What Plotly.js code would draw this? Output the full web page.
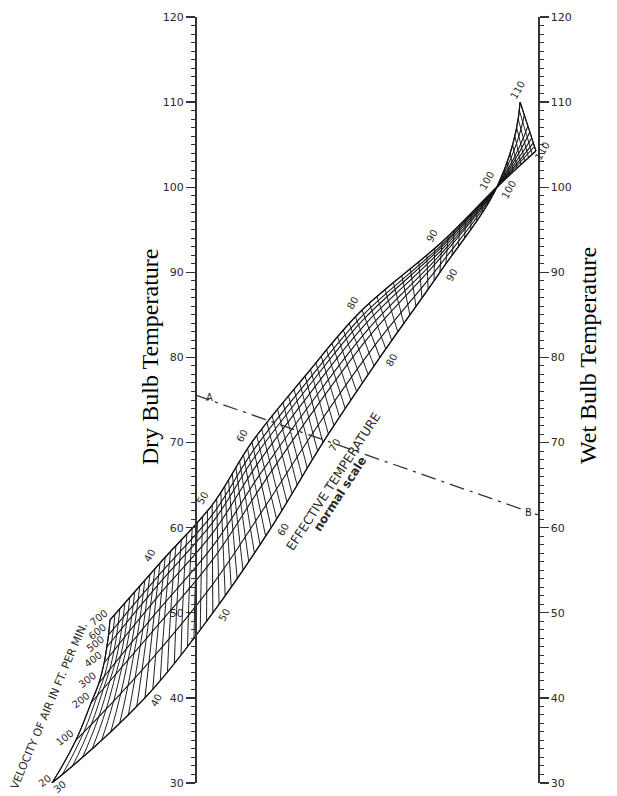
<!DOCTYPE html>
<html><head><meta charset="utf-8">
<script src="https://cdn.plot.ly/plotly-3.0.1.min.js"></script>
<style>html,body{margin:0;padding:0;background:#fff}#chart{width:617px;height:796px}</style>
</head><body><div id="chart"></div>
<script>
// Effective-temperature nomogram (normal scale)
const etValues   = [30, 40, 50, 60, 70, 80, 90, 100, 110];
const velocities = [20, 100, 200, 300, 400, 500, 600, 700];
// start of each velocity curve on the ET-30 boundary: fraction across, height deg F
const velocityStartX  = [-0.417, -0.347, -0.303, -0.280, -0.265, -0.257, -0.252, -0.248];
const velocityStartDB = [30.0, 35.05, 39.4, 41.75, 44.1, 45.98, 47.4, 49.15];
// 20 ft/min curve nodes: fraction across (0 = dry bulb scale, 1 = wet bulb scale), height deg F
const still20X = [-0.417, -0.146, 0.052, 0.222, 0.373, 0.539, 0.714, 0.880, 0.948];
const still20Y = [30, 40, 50, 60, 70, 80, 90, 100, 110];
// 700 ft/min curve nodes
const fast700X = [-0.248, -0.102, 0.050, 0.166, 0.321, 0.487, 0.720, 0.880, 0.994];
const fast700Y = [49.15, 55.85, 62.66, 70.06, 77.82, 85.57, 93.56, 100, 104.26];
// example line A (dry bulb) - B (wet bulb)
const lineDB = 75.6, lineWB = 61.5;
const lowerLabelETs = [30, 40, 50, 60, 70, 80, 90, 100, 110];
const upperLabelETs = [40, 50, 60, 80, 90, 100, 110];
const tickVals = [30, 40, 50, 60, 70, 80, 90, 100, 110, 120];

const span = velocityStartDB[velocityStartDB.length-1] - velocityStartDB[0];
const frac = velocityStartDB.map(v => (v - velocityStartDB[0]) / span);
const X = etValues.map((t, j) => j === 0 ? velocityStartX.slice()
  : frac.map(f => still20X[j] + f * (fast700X[j] - still20X[j])));
const Y = etValues.map((t, j) => j === 0 ? velocityStartDB.slice()
  : frac.map(f => still20Y[j] + f * (fast700Y[j] - still20Y[j])));

const ink = '#141414';
const carpet = {
  type: 'carpet', a: velocities, b: etValues, x: X, y: Y, xaxis: 'x', yaxis: 'y',
  aaxis: {smoothing: 1, tickmode: 'array', tickvals: velocities, showticklabels: 'none',
    showgrid: true, gridcolor: ink, gridwidth: 1.1, minorgridcount: 0,
    startline: true, endline: true, startlinecolor: ink, endlinecolor: ink,
    startlinewidth: 1.2, endlinewidth: 1.2, showline: false, title: {text: ''}},
  baxis: {smoothing: 1, tickmode: 'array', tickvals: etValues, showticklabels: 'none',
    showgrid: true, gridcolor: ink, gridwidth: 1.0, minorgridcount: 9,
    minorgridcolor: ink, minorgridwidth: 0.95,
    startline: true, endline: true, startlinecolor: ink, endlinecolor: ink,
    startlinewidth: 1.2, endlinewidth: 1.2, showline: false, title: {text: ''}}
};
const abLine = {type: 'scatter', mode: 'lines', x: [0, 1], y: [lineDB, lineWB],
  xaxis: 'x', yaxis: 'y2', line: {color: '#333', width: 1.3, dash: 'longdashdot'},
  hoverinfo: 'skip', showlegend: false};

const lblFont = {family: 'DejaVu Sans', size: 10, color: '#2a2a2a'};
const ann = [];
lowerLabelETs.forEach(t => {
  const j = etValues.indexOf(t);
  let xs = 12, ys = -2, ang = -60;
  if (t === 30) { xs = 8; ys = -3; ang = -40; }
  if (t === 110) { xs = -3; ys = 12; }
  ann.push({x: still20X[j], y: still20Y[j], xref: 'x', yref: 'y', text: String(t),
    showarrow: false, textangle: ang, xshift: xs, yshift: ys, font: lblFont});
});
upperLabelETs.forEach(t => {
  const j = etValues.indexOf(t);
  let xs = -10, ys = 7;
  if (t === 110) { xs = 7; ys = 0; }
  ann.push({x: fast700X[j], y: fast700Y[j], xref: 'x', yref: 'y', text: String(t),
    showarrow: false, textangle: -60, xshift: xs, yshift: ys, font: lblFont});
});
velocities.forEach((v, i) => {
  ann.push({x: X[0][i], y: Y[0][i], xref: 'x', yref: 'y', text: String(v),
    showarrow: false, textangle: -38, xshift: i === 0 ? -7 : -11, yshift: 3, font: lblFont});
});
ann.push({x: -0.43, y: 39.4, xref: 'x', yref: 'y', text: 'VELOCITY OF AIR IN FT. PER MIN.',
  showarrow: false, textangle: -67, xshift: 1, yshift: -3, font: {family: 'DejaVu Sans', size: 11, color: '#2a2a2a'}});
ann.push({x: 0.402, y: 65.48, xref: 'x', yref: 'y', text: 'EFFECTIVE TEMPERATURE',
  showarrow: false, textangle: -57, font: {family: 'DejaVu Sans', size: 12.5, color: '#2a2a2a'}});
ann.push({x: 0.4227, y: 63.95, xref: 'x', yref: 'y', text: '<b>normal scale</b>',
  showarrow: false, textangle: -57, font: {family: 'DejaVu Sans', size: 12, color: '#2a2a2a'}});
ann.push({x: 0, y: lineDB, xref: 'x', yref: 'y', text: 'A', showarrow: false,
  xshift: 14, yshift: -3, font: {family: 'DejaVu Sans', size: 10, color: '#2a2a2a'}});
ann.push({x: 1, y: lineWB, xref: 'x', yref: 'y', text: 'B', showarrow: false,
  xshift: -10, yshift: 2, font: {family: 'DejaVu Sans', size: 10, color: '#2a2a2a'}});
ann.push({x: 135/617, y: 1-357/796, xref: 'paper', yref: 'paper', text: 'Dry Bulb Temperature',
  showarrow: false, textangle: -90, font: {family: 'Liberation Serif', size: 24, color: '#000'}});
ann.push({x: 603/617, y: 1-356/796, xref: 'paper', yref: 'paper', text: 'Wet Bulb Temperature',
  showarrow: false, textangle: -90, font: {family: 'Liberation Serif', size: 24, color: '#000'}});

const yCommon = {domain: [1-783/796, 1-17/796], range: [30, 120], anchor: 'free',
  showline: true, linecolor: '#333', linewidth: 1.5, ticks: 'outside', ticklen: 9,
  tickwidth: 1.3, tickcolor: '#333', tickmode: 'array', tickvals: tickVals,
  minor: {dtick: 1, tick0: 0, ticklen: 4, tickwidth: 1, tickcolor: '#333', ticks: 'outside', showgrid: false},
  showgrid: false, zeroline: false, fixedrange: true,
  tickfont: {family: 'DejaVu Sans', size: 11, color: '#2a2a2a'}};

const layout = {
  width: 617, height: 796, margin: {l: 0, r: 0, t: 0, b: 0},
  paper_bgcolor: '#fff', plot_bgcolor: 'rgba(0,0,0,0)', showlegend: false,
  xaxis: {range: [-195/343, (617-195)/343], visible: false, fixedrange: true},
  yaxis: Object.assign({}, yCommon, {side: 'left', position: 195/617}),
  yaxis2: Object.assign({}, yCommon, {side: 'right', position: 538/617, overlaying: 'y'}),
  annotations: ann
};
Plotly.newPlot('chart', [carpet, abLine], layout, {staticPlot: true});
</script></body></html>
